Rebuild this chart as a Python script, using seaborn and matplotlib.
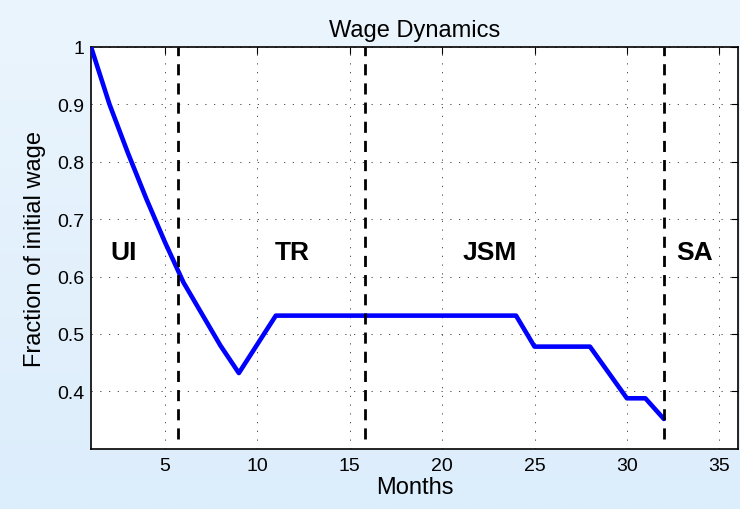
import numpy as np
import pandas as pd
import matplotlib
matplotlib.use("Agg")
import matplotlib.pyplot as plt
import seaborn as sns

# dados
months = list(range(1, 33))
wage = [1.000, 0.900, 0.815, 0.735, 0.660, 0.590, 0.535, 0.480, 0.432, 0.482,
        0.532, 0.532, 0.532, 0.532, 0.532, 0.532, 0.532, 0.532, 0.532, 0.532,
        0.532, 0.532, 0.532, 0.532, 0.478, 0.478, 0.478, 0.478, 0.433, 0.388,
        0.388, 0.352]
phase_breaks = [5.7, 15.8, 32.0]
phase_names = ["UI", "TR", "JSM", "SA"]
phase_x = [2.77, 11.9, 22.57, 33.64]
phase_y = 0.643
x_ticks = [5, 10, 15, 20, 25, 30, 35]
y_ticks = [0.4, 0.5, 0.6, 0.7, 0.8, 0.9, 1.0]
y_tick_labels = ["0.4", "0.5", "0.6", "0.7", "0.8", "0.9", "1"]

df = pd.DataFrame({"Months": months, "Wage": wage})

sns.set_style("white")
plt.rcParams["font.family"] = ["Liberation Sans", "DejaVu Sans"]
plt.rcParams["text.color"] = "black"
plt.rcParams["axes.labelcolor"] = "black"
plt.rcParams["xtick.color"] = "black"
plt.rcParams["ytick.color"] = "black"

fig = plt.figure(figsize=(7.4, 5.1), dpi=100)

# fundo com degradê azul claro
bg = fig.add_axes([0, 0, 1, 1], zorder=-10)
grad = np.linspace(0, 1, 256).reshape(-1, 1)
cmap = matplotlib.colors.LinearSegmentedColormap.from_list("bg", ["#ebf5fd", "#dcedfb"])
bg.imshow(grad, aspect="auto", cmap=cmap, extent=[0, 1, 0, 1])
bg.axis("off")

ax = fig.add_axes([0.123, 0.118, 0.874, 0.788])
ax.set_facecolor("white")

sns.lineplot(data=df, x="Months", y="Wage", ax=ax, color="#0000ff", linewidth=3.3, zorder=3)

for b in phase_breaks:
    ax.plot([b, b], [0.317, 1.0], color="black", linewidth=2.0,
            linestyle=(0, (4, 2.9)), zorder=4)

for name, px in zip(phase_names, phase_x):
    ax.text(px, phase_y, name, fontsize=19, fontweight="bold", color="black",
            ha="center", va="center", zorder=5)

ax.set_xlim(1, 36)
ax.set_ylim(0.3, 1.0)
ax.set_xticks(x_ticks)
ax.set_yticks(y_ticks)
ax.set_yticklabels(y_tick_labels)
ax.grid(True, color="#333333", linewidth=0.6, linestyle=(0, (1.5, 9)))
ax.tick_params(direction="in", length=5, width=0.8, top=True, right=True,
               labelsize=14, color="black", labelcolor="black")
ax.tick_params(axis="x", pad=6)
ax.tick_params(axis="y", pad=5)
for s in ax.spines.values():
    s.set_color("black")
    s.set_linewidth(1.2)
    s.set_visible(True)

ax.set_title("Wage Dynamics", fontsize=17, pad=8, color="black")
ax.set_xlabel("Months", fontsize=17, labelpad=1)
ax.set_ylabel("Fraction of initial wage", fontsize=17, labelpad=8)

fig.savefig("out.png", dpi=100)
